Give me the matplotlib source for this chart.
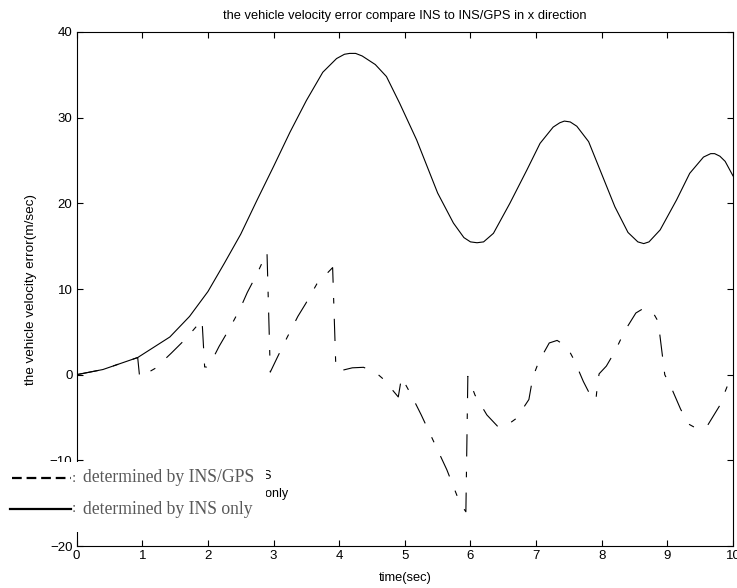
import matplotlib
matplotlib.use('Agg')
import matplotlib.pyplot as plt
from matplotlib.patches import Rectangle
from matplotlib.lines import Line2D

plt.rcParams['font.family'] = ['Liberation Sans', 'DejaVu Sans']
plt.rcParams['lines.scale_dashes'] = False

# INS only (solid)
t_ins = [0, 0.4, 0.93, 1.42, 1.72, 2.0, 2.25, 2.5, 2.75, 3.0, 3.25, 3.5, 3.75, 3.96,
         4.08, 4.16, 4.25, 4.35, 4.55, 4.72, 4.92, 5.18, 5.5, 5.74, 5.9, 6.0, 6.1,
         6.2, 6.35, 6.6, 6.86, 7.06, 7.26, 7.36, 7.43, 7.52, 7.62, 7.8, 8.0, 8.2,
         8.4, 8.55, 8.64, 8.72, 8.89, 9.14, 9.34, 9.55, 9.66, 9.72, 9.8, 9.88, 10.0]
v_ins = [0, 0.6, 2.0, 4.4, 6.8, 9.7, 13.0, 16.4, 20.4, 24.3, 28.3, 32.0, 35.3, 36.9,
         37.4, 37.5, 37.5, 37.2, 36.2, 34.8, 31.7, 27.4, 21.2, 17.7, 16.0, 15.5, 15.4,
         15.5, 16.5, 20.0, 23.9, 27.0, 28.9, 29.4, 29.6, 29.5, 29.0, 27.2, 23.4, 19.6,
         16.6, 15.5, 15.3, 15.5, 16.9, 20.4, 23.5, 25.4, 25.8, 25.8, 25.5, 24.9, 23.2]

# INS/GPS (dash-dot)
t_gps = [0, 0.4, 0.93, 0.96, 1.2, 1.44, 1.67, 1.91, 1.95, 1.98, 2.05, 2.17, 2.33, 2.49,
         2.6, 2.75, 2.9, 2.95, 3.05, 3.2, 3.37, 3.49, 3.66, 3.9, 3.95, 4.04, 4.2, 4.37,
         4.55, 4.67, 4.9, 4.95, 5.1, 5.25, 5.5, 5.64, 5.84, 5.93, 5.96, 6.07, 6.25,
         6.41, 6.51, 6.7, 6.89, 6.95, 7.04, 7.2, 7.32, 7.47, 7.58, 7.72, 7.84, 7.91,
         7.94, 7.96, 8.07, 8.2, 8.35, 8.52, 8.65, 8.8, 8.86, 8.96, 9.07, 9.2, 9.32,
         9.45, 9.61, 9.79, 9.92, 10.0]
v_gps = [0, 0.6, 2.0, -0.3, 0.75, 2.5, 4.25, 6.4, 0.9, 0.9, 1.5, 3.3, 5.4, 7.7,
         9.6, 11.8, 14.3, 0.3, 1.9, 4.25, 6.8, 8.3, 10.6, 12.5, 0.6, 0.5, 0.8, 0.86,
         0.3, -0.5, -2.6, -0.3, -2.4, -4.7, -8.8, -11.1, -15.0, -16.0, -0.2, -2.4, -4.7,
         -6.0, -6.15, -5.1, -2.9, -0.3, 1.5, 3.7, 4.0, 3.27, 1.7, -0.8, -2.6, -3.0,
         -0.8, 0.1, 1.0, 2.7, 5.1, 7.2, 7.8, 7.0, 6.2, 0.0, -1.7, -4.0, -5.75,
         -6.3, -5.95, -3.7, -1.2, -0.3]

fig = plt.figure(figsize=(7.37, 5.88), dpi=100)
ax = fig.add_axes([0.104, 0.0714, 0.8906, 0.8742])

ax.plot(t_ins, v_ins, color='black', lw=0.8)
ax.plot(t_gps, v_gps, color='black', lw=0.8, dashes=(16, 11, 4, 11))

ax.set_xlim(0, 10)
ax.set_ylim(-20, 40)
ax.set_xticks(range(0, 11))
ax.set_yticks(range(-20, 41, 10))
ax.tick_params(direction='in', top=True, right=True, length=4, labelsize=9.5, pad=3)
for s in ax.spines.values():
    s.set_linewidth(0.8)

ax.set_title('the vehicle velocity error compare INS to INS/GPS in x direction',
             fontsize=9.3, pad=9)
ax.set_xlabel('time(sec)', fontsize=9.3, labelpad=7)
ax.set_ylabel('the vehicle velocity error(m/sec)', fontsize=9.7, labelpad=9)

# original legend text, mostly hidden under the pasted-over legend
W, H = 737.0, 588.0
fig.text(272 / W, 1 - 476 / H, 'determined by INS/GPS', ha='right', va='center',
         fontsize=9, zorder=1)
fig.text(288 / W, 1 - 494 / H, 'determined by INS only', ha='right', va='center',
         fontsize=9, zorder=1)

fig.patches.append(Rectangle((0, 1 - 532 / H), 266 / W, 70 / H, transform=fig.transFigure,
                             facecolor='white', edgecolor='none', zorder=2))

fig.lines.append(Line2D([12 / W, 71 / W], [1 - 478 / H, 1 - 478 / H], transform=fig.transFigure,
                        color='black', lw=1.6, dashes=(7, 3.5), zorder=3))
fig.lines.append(Line2D([10 / W, 71 / W], [1 - 509 / H, 1 - 509 / H], transform=fig.transFigure,
                        color='black', lw=1.6, zorder=3))

grey = '#585858'
for yy, lab in [(478, 'determined by INS/GPS'), (509, 'determined by INS only')]:
    fig.text(72 / W, 1 - yy / H, ':', ha='left', va='center', fontsize=11,
             family='Liberation Serif', color=grey, zorder=3)
    fig.text(83 / W, 1 - yy / H, lab, ha='left', va='center', fontsize=12.7,
             family='Liberation Serif', color=grey, zorder=3)

fig.savefig('out.png', dpi=100)
